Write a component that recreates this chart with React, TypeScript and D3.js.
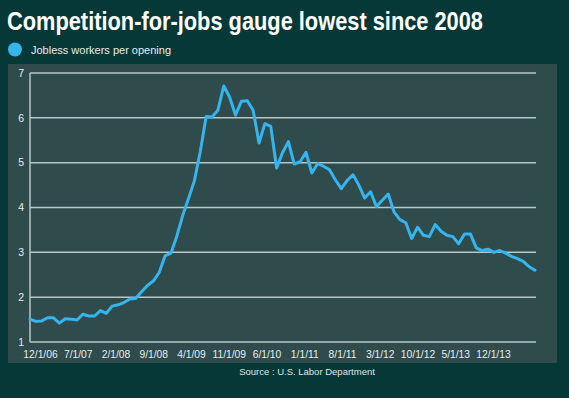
import React, { useEffect } from 'react';
import * as d3 from 'd3';

// jobless workers per job opening, monthly
const values = [
  1.51, 1.46, 1.47, 1.54, 1.54, 1.42, 1.52, 1.51, 1.49, 1.62,
  1.58, 1.58, 1.70, 1.64, 1.80, 1.83, 1.88, 1.96, 1.97, 2.12,
  2.26, 2.36, 2.55, 2.92, 2.98, 3.36, 3.82, 4.20, 4.60, 5.25,
  6.03, 6.02, 6.17, 6.71, 6.46, 6.06, 6.37, 6.38, 6.17, 5.44,
  5.87, 5.81, 4.88, 5.22, 5.47, 4.97, 5.02, 5.23, 4.77, 4.98,
  4.92, 4.84, 4.62, 4.42, 4.60, 4.73, 4.50, 4.21, 4.35, 4.02,
  4.16, 4.30, 3.90, 3.73, 3.66, 3.31, 3.56, 3.38, 3.35, 3.62,
  3.47, 3.38, 3.35, 3.19, 3.41, 3.41, 3.10, 3.04, 3.07, 3.00,
  3.04, 2.98, 2.91, 2.86, 2.80, 2.68, 2.60,
];
const tickLabels = [
  '12/1/06', '7/1/07', '2/1/08', '9/1/08', '4/1/09', '11/1/09', '6/1/10',
  '1/1/11', '8/1/11', '3/1/12', '10/1/12', '5/1/13', '12/1/13',
];
const yTicks = [1, 2, 3, 4, 5, 6, 7];
const seriesName = 'Jobless workers per opening';

const W = 569;
const H = 398;
const bg = '#073838';
const panel = '#2f4b4c';
const lineColor = '#36b4ee';
const grid = '#b9c6c6';
const font = '"Liberation Sans", Arial, sans-serif';

export default function App() {
  useEffect(() => {
    document.body.style.margin = '0';
  }, []);

  const x = d3.scaleLinear().domain([0, values.length - 1]).range([30, 535]);
  const y = d3.scaleLinear().domain([1, 7]).range([342, 73]);
  const xLab = d3.scalePoint<string>().domain(tickLabels).range([40.5, 493.5]);
  const line = d3.line<number>()
    .x((d, i) => x(i))
    .y(d => y(d));

  return (
    <svg width={W} height={H} style={{ display: 'block' }}>
      <rect width={W} height={H} fill={bg} />
      <text x={7} y={30} fill="#fff" fontFamily={font} fontWeight="bold"
        fontSize={25} textLength={476} lengthAdjust="spacingAndGlyphs">
        Competition-for-jobs gauge lowest since 2008
      </text>
      <circle cx={15} cy={49.5} r={7} fill={lineColor} />
      <text x={31} y={53.5} fill="#e6eeee" fontFamily={font} fontSize={11}>{seriesName}</text>

      <rect x={8} y={64} width={549} height={299} fill={panel} />
      {yTicks.map(t => (
        <g key={t}>
          {t > 1 && <line x1={30} x2={536} y1={y(t)} y2={y(t)} stroke={grid} strokeWidth={1.5} />}
          <text x={24} y={y(t)} dy="0.35em" textAnchor="end" fill="#e6eeee"
            fontFamily={font} fontSize={10.5}>{t}</text>
        </g>
      ))}
      <line x1={30} x2={30} y1={y(7)} y2={y(1)} stroke={grid} strokeWidth={1.5} />
      <line x1={30} x2={536} y1={y(1)} y2={y(1)} stroke={grid} strokeWidth={1.5} />
      {tickLabels.map(l => (
        <text key={l} x={xLab(l)} y={358} textAnchor="middle" fill="#e6eeee"
          fontFamily={font} fontSize={10.3}>{l}</text>
      ))}
      <path d={line(values) || ''} fill="none" stroke={lineColor} strokeWidth={3}
        strokeLinejoin="round" strokeLinecap="round" />

      <text x={307} y={375} textAnchor="middle" fill="#dfe7e7" fontFamily={font}
        fontSize={9.5}>Source : U.S. Labor Department</text>
    </svg>
  );
}
